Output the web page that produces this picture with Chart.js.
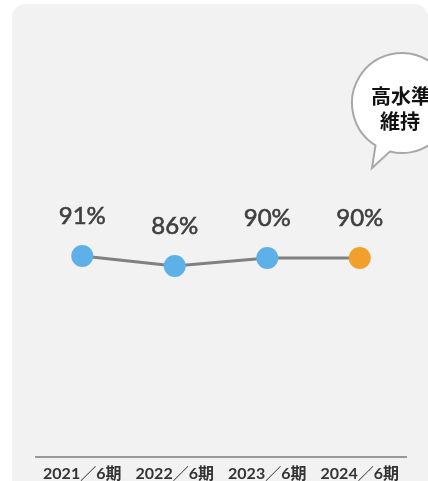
<!DOCTYPE html>
<html lang="ja">
<head>
<meta charset="utf-8">
<script src="https://cdn.jsdelivr.net/npm/chart.js@4"></script>
<style>
  html, body { margin: 0; padding: 0; background: #fff; }
  #wrap { position: relative; width: 428px; height: 481px; overflow: hidden; }
  #panel {
    position: absolute; left: 12px; top: 4px; width: 416px; height: 500px;
    background: #f2f2f2; border-radius: 14px 14px 0 0;
  }
  #rateChart { position: absolute; left: 0; top: 0; }
</style>
</head>
<body>
<div id="wrap">
  <div id="panel"></div>
  <canvas id="rateChart" width="428" height="481"></canvas>
</div>
<script>
const periods = ['2021／6期', '2022／6期', '2023／6期', '2024／6期'];
const rates = [91, 86, 90, 90];
const pointColors = ['#5eb0e8', '#5eb0e8', '#5eb0e8', '#f1a02b'];
const bubbleLines = ['高水準', '維持'];

// percent text above each point
const valueLabels = {
  id: 'valueLabels',
  afterDatasetsDraw(chart) {
    const ctx = chart.ctx;
    const meta = chart.getDatasetMeta(0);
    ctx.save();
    ctx.font = '24px Lato, "Noto Sans", sans-serif';
    ctx.fillStyle = '#3f3f3f';
    ctx.strokeStyle = '#3f3f3f';
    ctx.lineWidth = 0.6;
    ctx.textAlign = 'center';
    ctx.textBaseline = 'middle';
    meta.data.forEach((pt, i) => {
      const txt = rates[i] + '%';
      ctx.fillText(txt, pt.x, pt.y - 40);
      ctx.strokeText(txt, pt.x, pt.y - 40);
    });
    ctx.restore();
  }
};

// speech bubble in the top right corner
const bubble = {
  id: 'bubble',
  afterDraw(chart) {
    const ctx = chart.ctx;
    const cx = 402, cy = 103, r = 50;
    const a1 = 122 * Math.PI / 180;
    const a2 = 104 * Math.PI / 180;
    ctx.save();
    ctx.beginPath();
    ctx.arc(cx, cy, r, a1, a2 + Math.PI * 2, false);
    ctx.lineTo(372, 168);
    ctx.closePath();
    ctx.fillStyle = '#fff';
    ctx.fill();
    ctx.lineWidth = 2;
    ctx.strokeStyle = '#a8a8a8';
    ctx.stroke();
    ctx.font = 'bold 20px "Noto Sans CJK JP", sans-serif';
    ctx.fillStyle = '#111';
    ctx.textAlign = 'center';
    ctx.textBaseline = 'middle';
    ctx.fillText(bubbleLines[0], 401, 96);
    ctx.fillText(bubbleLines[1], 400, 121);
    ctx.restore();
  }
};

new Chart(document.getElementById('rateChart'), {
  type: 'line',
  data: {
    labels: periods,
    datasets: [{
      data: rates,
      borderColor: '#808080',
      borderWidth: 3,
      pointRadius: 11,
      pointHoverRadius: 11,
      pointBorderWidth: 0,
      pointBackgroundColor: pointColors,
      fill: false,
      tension: 0
    }]
  },
  options: {
    responsive: false,
    animation: false,
    events: [],
    layout: { padding: { left: 36, right: 22, top: 57, bottom: 0 } },
    plugins: { legend: { display: false }, tooltip: { enabled: false } },
    scales: {
      x: {
        offset: true,
        afterFit(scale) { scale.height = 24; },
        grid: { display: false, drawTicks: false },
        border: { display: true, color: '#999', width: 2 },
        ticks: {
          padding: 7,
          color: '#333',
          font: { family: 'Lato, "Noto Sans CJK JP", sans-serif', size: 16, weight: 'bold' },
          maxRotation: 0,
          autoSkip: false
        }
      },
      y: {
        display: false,
        min: -9.5,
        max: 190.5
      }
    }
  },
  plugins: [valueLabels, bubble]
});
</script>
</body>
</html>
